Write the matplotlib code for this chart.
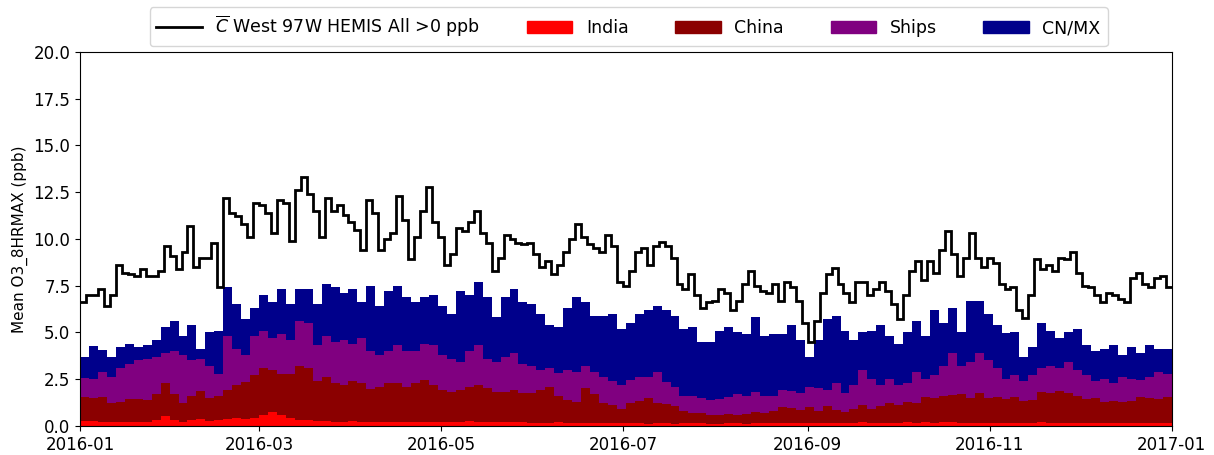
import numpy as np
import pandas as pd
import matplotlib
matplotlib.use("Agg")
import matplotlib.pyplot as plt
import matplotlib.dates as mdates
from matplotlib.lines import Line2D
from matplotlib.patches import Patch

# total (black line), 2-day resolution
total = [6.65, 7.0, 7.0, 7.3, 6.4, 7.0, 8.6, 8.2, 8.1, 8.0, 8.4, 8.0, 8.0, 8.3, 9.6, 9.1, 8.4, 9.3, 10.7, 8.5,
         9.0, 9.0, 9.8, 7.4, 12.2, 11.4, 11.2, 10.8, 10.1, 11.9,
         11.8, 11.4, 10.3, 12.1, 11.9, 9.9, 12.6, 13.3, 12.4, 11.5, 10.1, 12.2, 11.5, 11.8, 11.3, 10.9, 10.5, 9.4, 12.1, 11.4,
         9.4, 10.0, 10.3, 12.3, 11.0, 8.9, 10.1, 11.5, 12.8, 10.9,
         10.1, 8.6, 9.2, 10.6, 10.4, 10.9, 11.5, 10.3, 9.8, 8.3, 9.0, 10.2, 10.0, 9.8, 9.7, 9.8, 9.2, 8.5, 8.8, 8.1,
         8.6, 9.3, 10.0, 10.8, 10.1, 9.7, 9.5, 9.3, 10.2, 9.6,
         7.7, 7.5, 8.3, 9.3, 9.5, 8.6, 9.6, 9.85, 9.6, 9.0, 7.6, 7.3, 8.1, 7.0, 6.3, 6.6, 6.7, 7.3, 7.1, 6.2,
         6.7, 7.6, 8.3, 7.5, 7.2, 7.1, 7.6, 6.7, 7.7, 7.4,
         6.7, 5.5, 4.5, 5.6, 7.1, 8.1, 8.45, 7.6, 7.1, 6.6, 7.7, 7.7, 7.0, 7.3, 7.7, 7.2, 6.5, 5.7, 7.0, 8.3,
         8.8, 7.8, 8.8, 8.2, 9.4, 10.4, 9.2, 8.0, 9.0, 10.3,
         9.0, 8.5, 9.0, 8.7, 7.6, 7.3, 7.4, 6.2, 5.75, 7.0, 8.9, 8.4, 8.6, 8.3, 9.0, 8.9, 9.3, 8.2, 7.5, 7.4,
         7.0, 6.6, 7.1, 7.0, 6.8, 6.6, 7.9, 8.2, 7.6, 7.4,
         7.9, 8.0, 7.4]

# stacked source levels (top of each band), 3-day resolution
cnmx_lvl = [3.7, 4.25, 4.05, 3.7, 4.2, 4.4, 4.2, 4.3, 4.6, 5.3, 5.6, 4.8, 5.4, 4.1, 5.0, 5.1, 7.4, 6.5, 5.7, 6.3,
            7.0, 6.6, 7.3, 6.5, 7.3, 7.3, 6.5, 7.6, 7.4, 7.1, 7.3, 6.6, 7.5, 6.4, 7.2, 7.5, 6.9, 6.6, 6.9, 7.0,
            6.4, 6.0, 7.2, 7.0, 7.7, 6.9, 5.8, 6.9, 7.3, 6.6, 6.5, 6.0, 5.4, 5.3, 6.3, 6.9, 6.6, 5.9, 5.9, 6.0,
            5.2, 5.5, 6.0, 6.2, 6.4, 6.2, 5.9, 5.2, 5.3, 4.5, 4.5, 5.1, 5.3, 5.0, 4.9, 5.8, 4.8, 4.9, 4.9, 5.4,
            4.6, 3.7, 4.6, 5.7, 5.9, 5.1, 4.6, 5.0, 5.1, 5.4, 4.8, 4.4, 5.0, 5.6, 4.8, 6.2, 5.5, 6.3, 5.0, 6.7,
            6.7, 6.0, 5.4, 4.95, 5.0, 3.7, 4.2, 5.5, 5.1, 4.7, 5.0, 5.2, 4.3, 4.0, 4.1, 4.3, 3.8, 4.2, 3.9, 4.3,
            4.1, 4.1]
ships_lvl = [2.55, 2.5, 2.9, 2.6, 3.1, 3.3, 3.5, 3.6, 3.7, 3.9, 4.0, 3.8, 3.5, 3.6, 3.2, 2.8, 4.8, 4.1, 3.8, 4.8,
             5.1, 4.7, 4.9, 4.6, 5.6, 5.5, 4.3, 4.8, 4.5, 4.6, 4.4, 4.7, 4.0, 3.8, 4.0, 4.3, 4.0, 4.0, 4.4, 4.3,
             3.8, 3.6, 3.4, 4.0, 4.3, 3.6, 3.4, 3.7, 3.9, 3.3, 3.2, 3.0, 3.1, 2.85, 3.0, 2.9, 3.2, 2.9, 2.6, 2.4,
             2.2, 2.45, 2.6, 2.6, 2.9, 2.35, 2.1, 1.6, 1.6, 1.5, 1.4, 1.45, 1.55, 1.7, 1.6, 1.8, 1.6, 1.6, 1.9, 1.85,
             1.75, 2.1, 2.0, 1.9, 2.3, 1.75, 2.2, 3.0, 2.5, 2.2, 2.5, 2.2, 2.3, 2.9, 2.5, 2.7, 3.2, 3.9, 3.2, 3.4,
             3.9, 3.5, 3.1, 2.5, 2.7, 2.4, 2.7, 3.1, 3.2, 3.1, 3.4, 3.0, 2.7, 2.4, 2.5, 2.3, 2.6, 2.5, 2.45, 2.6,
             2.9, 2.8]
china_lvl = [1.55, 1.5, 1.55, 1.25, 1.3, 1.45, 1.45, 1.4, 1.7, 2.3, 1.7, 1.25, 1.6, 1.85, 1.5, 1.6, 1.9, 2.2, 2.35, 2.7,
             3.1, 3.0, 2.8, 2.8, 3.2, 3.1, 2.4, 2.6, 2.3, 2.2, 2.4, 2.3, 1.95, 2.1, 2.3, 2.3, 2.1, 2.3, 2.45, 2.2,
             1.9, 1.8, 1.9, 2.1, 2.2, 2.0, 1.8, 1.8, 1.9, 1.75, 1.75, 1.9, 2.1, 1.6, 1.4, 1.3, 2.0, 1.7, 1.2, 1.1,
             0.9, 1.2, 1.35, 1.5, 1.2, 1.15, 1.05, 0.8, 0.7, 0.7, 0.6, 0.6, 0.65, 0.6, 0.65, 0.75, 0.7, 0.8, 1.0, 0.95,
             0.85, 1.0, 0.8, 1.05, 0.85, 0.75, 0.9, 1.1, 0.9, 1.05, 1.2, 1.1, 1.3, 1.2, 1.55, 1.5, 1.6, 1.65, 1.7, 1.5,
             1.75, 1.5, 1.55, 1.45, 1.55, 1.35, 1.4, 1.8, 1.75, 1.85, 1.75, 1.6, 1.45, 1.5, 1.3, 1.35, 1.3, 1.35, 1.55, 1.5,
             1.45, 1.55]
india_lvl = [0.25, 0.25, 0.2, 0.2, 0.2, 0.2, 0.2, 0.2, 0.3, 0.55, 0.3, 0.2, 0.3, 0.35, 0.25, 0.3, 0.35, 0.4, 0.35, 0.4,
             0.6, 0.75, 0.6, 0.4, 0.3, 0.3, 0.25, 0.25, 0.2, 0.2, 0.25, 0.2, 0.2, 0.2, 0.2, 0.2, 0.2, 0.2, 0.2, 0.2,
             0.2, 0.2, 0.2, 0.25, 0.2, 0.2, 0.2, 0.2, 0.2, 0.2, 0.15, 0.15, 0.15, 0.2, 0.15, 0.15, 0.15, 0.15, 0.15, 0.15,
             0.15, 0.15, 0.15, 0.1, 0.15, 0.15, 0.1, 0.15, 0.15, 0.15, 0.1, 0.1, 0.15, 0.15, 0.1, 0.15, 0.15, 0.15, 0.15, 0.15,
             0.15, 0.15, 0.15, 0.15, 0.15, 0.15, 0.15, 0.2, 0.15, 0.15, 0.15, 0.15, 0.2, 0.15, 0.2, 0.15, 0.2, 0.2, 0.15, 0.15,
             0.15, 0.15, 0.15, 0.15, 0.15, 0.15, 0.15, 0.2, 0.15, 0.15, 0.15, 0.15, 0.15, 0.15, 0.15, 0.15, 0.15, 0.15, 0.15, 0.15,
             0.15, 0.15]

labels = [r"$\overline{C}$ West 97W HEMIS All >0 ppb", "India", "China", "Ships", "CN/MX"]
colors = ["#ff0000", "#8b0000", "#800080", "#00008b"]

edges_tot = mdates.date2num(pd.date_range("2016-01-01", periods=len(total) + 1, freq="2D"))
edges_src = mdates.date2num(pd.date_range("2016-01-01", periods=len(cnmx_lvl) + 1, freq="3D"))

fig = plt.figure(figsize=(12.14, 4.55), dpi=100)
ax = fig.add_axes([0.066, 0.064, 0.899, 0.822])

# draw bands from the top level down so they overlap without seams
for lvl, c in zip([cnmx_lvl, ships_lvl, china_lvl, india_lvl], colors[::-1]):
    ax.stairs(lvl, edges_src, baseline=0, fill=True, color=c, lw=0)
ax.stairs(total, edges_tot, baseline=None, color="k", lw=2)

ax.set_xlim(edges_src[0], edges_src[-1])
ax.set_ylim(0, 20)
ax.set_yticks(np.arange(0, 20.1, 2.5))
ax.yaxis.set_major_formatter(plt.FormatStrFormatter("%.1f"))
ax.xaxis.set_major_locator(mdates.MonthLocator(bymonth=[1, 3, 5, 7, 9, 11]))
ax.xaxis.set_major_formatter(mdates.DateFormatter("%Y-%m"))
ax.tick_params(labelsize=12)
ax.set_ylabel("Mean O3_8HRMAX (ppb)", fontsize=11)

handles = [Line2D([], [], color="k", lw=2)] + [Patch(color=c) for c in colors]
ax.legend(handles, labels, loc="lower left", bbox_to_anchor=(0.062, 1.01, 0.881, 0.1), mode="expand",
          ncol=5, fontsize=12.5, handlelength=2.6, frameon=True, borderaxespad=0.1)

fig.savefig("out.png", dpi=100)
